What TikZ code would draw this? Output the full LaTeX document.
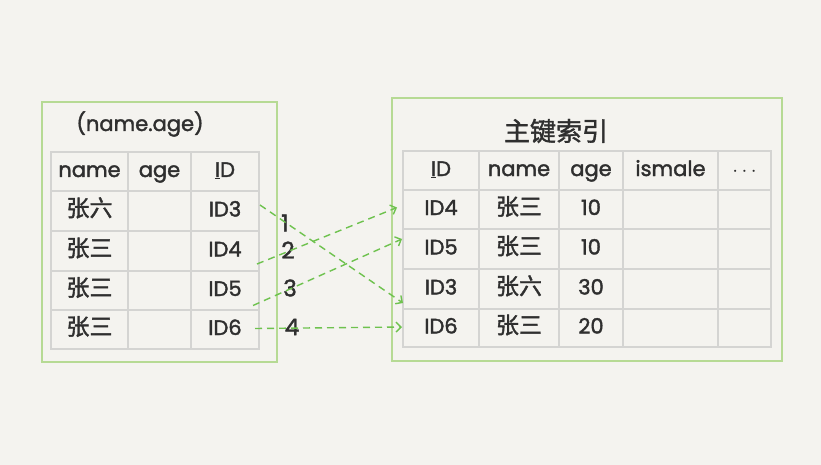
\documentclass[tikz,border=0pt]{standalone}
\usepackage{fontspec}
\setmainfont{Poppins}[FakeBold=1.8,AutoFakeBold=1.8]
\newfontfamily\cjk{Noto Sans CJK SC}[FakeBold=1.5,AutoFakeBold=1.5]
\usetikzlibrary{calc,arrows.meta}
\definecolor{bgc}{HTML}{F4F3EF}
\definecolor{boxc}{HTML}{B6DA94}
\definecolor{gridc}{HTML}{D4D4D2}
\definecolor{arrc}{HTML}{6EC24E}
\definecolor{txtc}{HTML}{2F2F2F}
\newcommand{\lt}{\fontsize{21}{24}\selectfont\bfseries}
\newcommand{\ct}{\cjk\fontsize{23}{25}\selectfont\bfseries}
\begin{document}
\begin{tikzpicture}[x=1pt,y=-1pt,
  outerbox/.style={draw=boxc, line width=1.4pt},
  cell/.style={draw=gridc, line width=1.8pt, anchor=north west, inner sep=0pt, outer sep=0pt, text=txtc, font=\lt, text height=16pt, text depth=5pt},
  num/.style={text=txtc, font=\fontsize{23}{25}\selectfont\bfseries},
  link/.style={draw=arrc, line width=1.4pt, dash pattern=on 7pt off 5pt, -{Straight Barb[length=5pt,width=10pt]}},
  ttl/.style={text=txtc}]
\fill[bgc] (0,0) rectangle (821,465);
\useasboundingbox (0,0) rectangle (821,465);
% outer boxes
\draw[outerbox] (42,102) rectangle (277,362);
\draw[outerbox] (392,98) rectangle (782,361);
\node[ttl, font=\lt] (ltitle) at (140,124) {(name.age)};
\node[ttl, font=\cjk\fontsize{26}{28}\selectfont\bfseries] (rtitle) at (556,131) {主键索引};
% left table
\foreach \r/\ya/\yb/\a/\b/\c in {0/152/191/name/age/{\underline{I}D},
  1/191/231/{{\ct 张六}}/{}/ID3,
  2/231/271/{{\ct 张三}}/{}/ID4,
  3/271/310/{{\ct 张三}}/{}/ID5,
  4/310/349/{{\ct 张三}}/{}/ID6}{
  \pgfmathsetmacro{\hh}{\yb-\ya}
  \node[cell, minimum width=77pt, minimum height=\hh pt] (L-\r-1) at (51,\ya) {\a};
  \node[cell, minimum width=63pt, minimum height=\hh pt] (L-\r-2) at (128,\ya) {\b};
  \node[cell, minimum width=68pt, minimum height=\hh pt] (L-\r-3) at (191,\ya) {\c};
}
% right table
\foreach \r/\ya/\yb/\a/\b/\c/\d/\e in {0/151/190/{\underline{I}D}/name/age/ismale/{$\cdots$},
  1/190/229/ID4/{{\ct 张三}}/10/{}/{},
  2/229/269/ID5/{{\ct 张三}}/10/{}/{},
  3/269/309/ID3/{{\ct 张六}}/30/{}/{},
  4/309/347/ID6/{{\ct 张三}}/20/{}/{}}{
  \pgfmathsetmacro{\hh}{\yb-\ya}
  \node[cell, minimum width=76pt, minimum height=\hh pt] (R-\r-1) at (403,\ya) {\a};
  \node[cell, minimum width=80pt, minimum height=\hh pt] (R-\r-2) at (479,\ya) {\b};
  \node[cell, minimum width=64pt, minimum height=\hh pt] (R-\r-3) at (559,\ya) {\c};
  \node[cell, minimum width=95pt, minimum height=\hh pt] (R-\r-4) at (623,\ya) {\d};
  \node[cell, minimum width=53pt, minimum height=\hh pt] (R-\r-5) at (718,\ya) {\e};
}
% numbers
\node[num] (n1) at (285,223) {1};
\node[num] (n2) at (288,250) {2};
\node[num] (n3) at (290,288) {3};
\node[num] (n4) at (292,327) {4};
% links
\draw[link] ($(L-1-3.east)+(1,-6)$) -- ($(R-3-1.west)+(0,14)$);
\draw[link] ($(L-2-3.east)+(-2,13)$) -- ($(R-1-1.west)+(-6,-2)$);
\draw[link] ($(L-3-3.east)+(-6,15)$) -- ($(R-2-1.west)+(-1,-10)$);
\draw[link] ($(L-4-3.east)+(-4,-1)$) -- ($(R-4-1.west)+(-1,-1)$);
\end{tikzpicture}
\end{document}
